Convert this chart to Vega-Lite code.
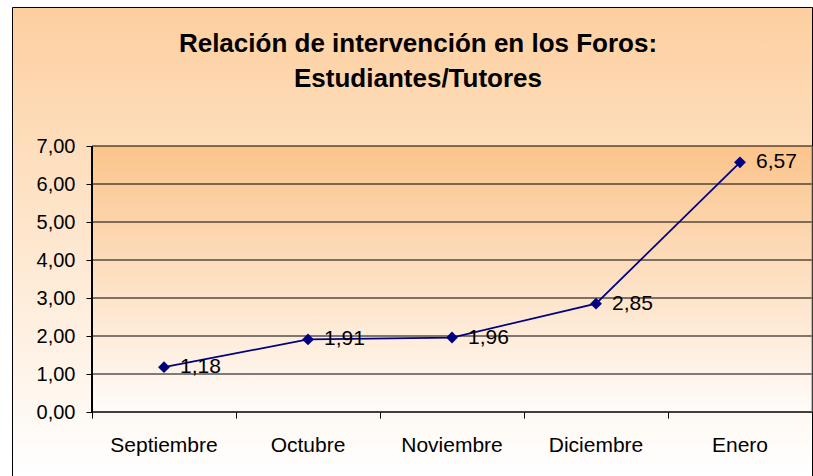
{
  "$schema": "https://vega.github.io/schema/vega-lite/v6.json",
  "width": 800,
  "height": 469,
  "autosize": "none",
  "padding": {"left": 12, "top": 7, "right": 1, "bottom": 0},
  "background": "#ffffff",
  "config": {
    "font": "Liberation Sans",
    "locale": {"number": {"decimal": ",", "thousands": ".", "grouping": [3], "currency": ["", " €"]}}
  },
  "view": {
    "stroke": "#000000",
    "strokeWidth": 1,
    "fill": {"gradient": "linear", "x1": 0, "y1": 0, "x2": 0, "y2": 1, "stops": [{"offset": 0, "color": "#fdcf9f"}, {"offset": 1, "color": "#ffffff"}]}
  },
  "datasets": {
    "series": [
      {"mes": "Septiembre", "idx": 0, "valor": 1.18},
      {"mes": "Octubre", "idx": 1, "valor": 1.91},
      {"mes": "Noviembre", "idx": 2, "valor": 1.96},
      {"mes": "Diciembre", "idx": 3, "valor": 2.85},
      {"mes": "Enero", "idx": 4, "valor": 6.57}
    ],
    "grid": [{"v": 1}, {"v": 2}, {"v": 3}, {"v": 4}, {"v": 5}, {"v": 6}, {"v": 7}],
    "one": [{}]
  },
  "layer": [
    {
      "data": {"name": "one"},
      "mark": {"type": "rect", "fill": {"gradient": "linear", "x1": 0, "y1": 0, "x2": 0, "y2": 1, "stops": [{"offset": 0, "color": "#fbc48b"}, {"offset": 1, "color": "#fffcfa"}]}, "strokeWidth": 0},
      "encoding": {
        "x": {"datum": -0.5, "type": "quantitative", "scale": {"domain": [-1.05556, 4.5], "nice": false, "zero": false},
          "axis": {"values": [-0.5, 0.5, 1.5, 2.5, 3.5, 4.5], "labels": false, "domain": false, "grid": false, "ticks": true, "tickSize": 6, "tickColor": "#000000", "tickWidth": 1, "offset": -64, "title": null, "orient": "bottom"}},
        "x2": {"datum": 4.5},
        "y": {"datum": 0, "type": "quantitative", "scale": {"domain": [-1.6842, 10.6579], "nice": false, "zero": false},
          "axis": {"values": [0, 1, 2, 3, 4, 5, 6, 7], "format": ".2f", "domain": false, "grid": false, "ticks": true, "tickSize": 6, "tickColor": "#000000", "tickWidth": 1, "labelFontSize": 20, "labelColor": "#000000", "labelFont": "Liberation Sans", "labelPadding": 11, "offset": -80, "title": null}},
        "y2": {"datum": 7}
      }
    },
    {
      "data": {"name": "grid"},
      "mark": {"type": "rule", "color": "#000000", "strokeWidth": 1},
      "encoding": {
        "x": {"datum": -0.5, "type": "quantitative"},
        "x2": {"datum": 4.5},
        "y": {"field": "v", "type": "quantitative"}
      }
    },
    {
      "data": {"name": "one"},
      "mark": {"type": "rule", "color": "#000000", "strokeWidth": 1.5},
      "encoding": {
        "x": {"datum": -0.5, "type": "quantitative"},
        "x2": {"datum": 4.5},
        "y": {"datum": 0, "type": "quantitative"}
      }
    },
    {
      "data": {"name": "one"},
      "mark": {"type": "rule", "color": "#000000", "strokeWidth": 2},
      "encoding": {
        "x": {"datum": -0.5, "type": "quantitative"},
        "y": {"datum": 0, "type": "quantitative"},
        "y2": {"datum": 7}
      }
    },
    {
      "data": {"name": "one"},
      "mark": {"type": "rule", "color": "#808080", "strokeWidth": 1},
      "encoding": {
        "x": {"datum": 4.5, "type": "quantitative"},
        "y": {"datum": 0, "type": "quantitative"},
        "y2": {"datum": 7}
      }
    },
    {
      "data": {"name": "series"},
      "mark": {"type": "line", "color": "#000080", "strokeWidth": 1.75},
      "encoding": {
        "x": {"field": "idx", "type": "quantitative"},
        "y": {"field": "valor", "type": "quantitative"}
      }
    },
    {
      "data": {"name": "series"},
      "mark": {"type": "point", "shape": "diamond", "filled": true, "color": "#000080", "opacity": 1, "size": 140},
      "encoding": {
        "x": {"field": "idx", "type": "quantitative"},
        "y": {"field": "valor", "type": "quantitative"}
      }
    },
    {
      "data": {"name": "series"},
      "mark": {"type": "text", "align": "left", "baseline": "middle", "dx": 16, "fontSize": 21, "color": "#000000", "font": "Liberation Sans"},
      "encoding": {
        "x": {"field": "idx", "type": "quantitative"},
        "y": {"field": "valor", "type": "quantitative"},
        "text": {"field": "valor", "type": "quantitative", "format": ".2f"}
      }
    },
    {
      "data": {"name": "series"},
      "mark": {"type": "text", "align": "center", "baseline": "alphabetic", "fontSize": 21, "color": "#000000", "font": "Liberation Sans"},
      "encoding": {
        "x": {"field": "idx", "type": "quantitative"},
        "y": {"datum": -1.045, "type": "quantitative"},
        "text": {"field": "mes", "type": "nominal"}
      }
    },
    {
      "data": {"name": "one"},
      "mark": {"type": "text", "align": "center", "baseline": "alphabetic", "fontSize": 26, "fontWeight": "bold", "lineHeight": 35, "color": "#000000", "font": "Liberation Sans"},
      "encoding": {
        "x": {"datum": 1.764, "type": "quantitative"},
        "y": {"datum": 9.47, "type": "quantitative"},
        "text": {"value": ["Relación de intervención en los Foros:", "Estudiantes/Tutores"]}
      }
    }
  ]
}
